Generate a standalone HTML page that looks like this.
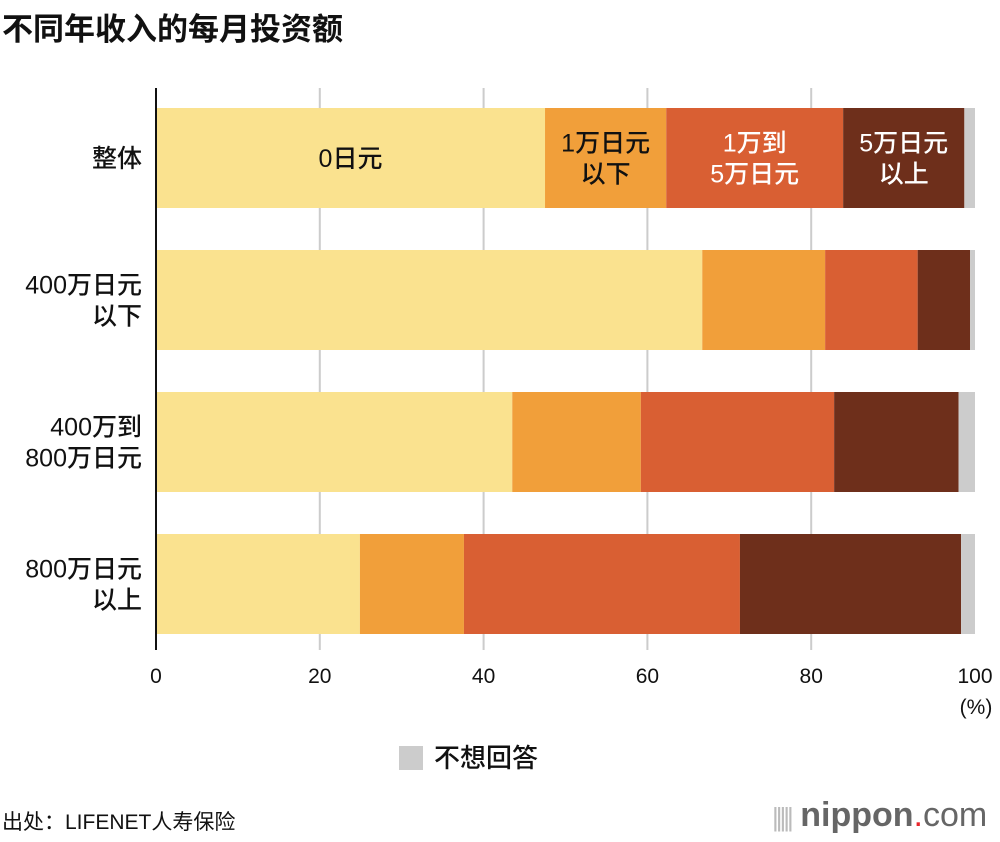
<!DOCTYPE html>
<html><head><meta charset="utf-8"><style>
body{margin:0;width:1000px;height:842px;background:#fff;font-family:"Liberation Sans","Noto Sans CJK SC",sans-serif;overflow:hidden;position:relative}
.t{position:absolute}
</style></head><body>
<div class="t" style="left:2px;top:4px;font-size:31px;font-weight:bold;color:#111">不同年收入的每月投资额</div>
<svg id="c" class="t" style="left:0;top:0" width="1000" height="842"></svg>
<div class="t" style="left:2px;top:806px;font-size:21px;color:#111">出处：LIFENET人寿保险</div>
<div class="t" style="left:772px;top:796px;font-size:34px;color:#666;letter-spacing:0px"><span style="font-size:26px;color:#bbb;letter-spacing:-3px">|||||</span> <b>nippon</b><span style="color:#e8262c">.</span>com</div>
<script>
const categories=["整体","400万日元|以下","400万到|800万日元","800万日元|以上"];
const seriesNames=["0日元","1万日元以下","1万到5万日元","5万日元以上","不想回答"];
const s0=[47.5,66.7,43.5,24.9];
const s1=[14.8,15.0,15.7,12.7];
const s2=[21.6,11.3,23.6,33.7];
const s3=[14.8,6.4,15.2,27.0];
const s4=[1.3,0.6,2.0,1.7];
const ticks=[0,20,40,60,80,100];
const colors=["#fae28f","#f19f3a","#d95f33","#6e2f1b","#cccccc"];
const svg=document.getElementById('c');const NS="http://www.w3.org/2000/svg";
const x0=156,x1=975;const X=v=>x0+(x1-x0)*v/100;
const rowTop=i=>108+i*142;const bh=100;
function mk(t,a,p){const e=document.createElementNS(NS,t);for(const k in a)e.setAttribute(k,a[k]);(p||svg).appendChild(e);return e;}
ticks.forEach(t=>{
 if(t>0&&t<100){const l=mk('line',{x1:X(t),x2:X(t),y1:88,y2:650,stroke:'#ccc','stroke-width':2});
 
 }
 const tx=mk('text',{x:X(t),y:683,'text-anchor':'middle','font-size':21,fill:'#111'});tx.textContent=t;
 
 
});
const u=mk('text',{x:976,y:714,'text-anchor':'middle','font-size':21,fill:'#111'});u.textContent='(%)';


const series=[s0,s1,s2,s3,s4];
categories.forEach((c,i)=>{
 let acc=0;
 series.forEach((s,j)=>{const r=mk('rect',{x:X(acc),y:rowTop(i),width:X(acc+s[i])-X(acc),height:bh,fill:colors[j]});
  
  
  acc+=s[i];});
 const lines=c.split('|');
 lines.forEach((ln,k)=>{const t=mk('text',{x:142,y:rowTop(i)+bh/2+9+(k-(lines.length-1)/2)*31,'text-anchor':'end','font-size':25,fill:'#111','font-weight':500});t.textContent=ln;
  
  });
});
const ax=mk('line',{x1:x0,x2:x0,y1:88,y2:650,stroke:'#111','stroke-width':2});


const inLabels=[["0日元"],["1万日元","以下"],["1万到","5万日元"],["5万日元","以上"]];
let acc=0;
inLabels.forEach((ls,j)=>{const mid=X(acc+series[j][0]/2);acc+=series[j][0];
 ls.forEach((ln,k)=>{const t=mk('text',{x:mid,y:rowTop(0)+bh/2+9+(k-(ls.length-1)/2)*31,'text-anchor':'middle','font-size':25,fill:j>=2?'#fff':'#111','font-weight':500});t.textContent=ln;
  
  });
});
const lr=mk('rect',{x:399,y:746,width:24,height:24,fill:colors[4]});


const lt=mk('text',{x:434,y:767,'font-size':26,fill:'#111','font-weight':500});lt.textContent='不想回答';


</script>
</body></html>
